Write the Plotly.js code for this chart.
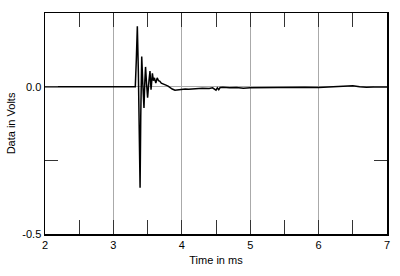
<!DOCTYPE html>
<html><head><meta charset="utf-8">
<script src="https://cdn.plot.ly/plotly-3.0.1.min.js"></script>
<style>html,body{margin:0;padding:0;background:#fff}#c{width:400px;height:276px}</style>
</head><body><div id="c"></div>
<script>
const timeMs = [2.0, 3.0, 3.3, 3.32, 3.335, 3.35, 3.365, 3.375, 3.39, 3.40, 3.414, 3.43, 3.447, 3.46, 3.47, 3.485, 3.50, 3.52, 3.535, 3.55, 3.57, 3.585, 3.60, 3.62, 3.64, 3.66, 3.68, 3.70, 3.73, 3.76, 3.80, 3.83, 3.86, 3.90, 3.95, 4.0, 4.05, 4.1, 4.2, 4.3, 4.4, 4.45, 4.5, 4.52, 4.54, 4.56, 4.6, 4.7, 4.8, 4.9, 5.0, 5.2, 5.4, 5.6, 5.8, 6.0, 6.2, 6.4, 6.5, 6.6, 6.7, 6.8, 7.0];
const volts  = [0.0, 0.0, 0.0, 0.0, 0.09, 0.205, 0.05, -0.2, -0.343, -0.1, 0.102, 0.01, -0.072, 0.02, 0.067, 0.01, -0.037, 0.02, 0.053, -0.01, 0.045, 0.02, 0.03, 0.012, 0.03, 0.02, 0.018, 0.012, 0.01, 0.006, 0.002, -0.004, -0.008, -0.012, -0.01, -0.01, -0.008, -0.009, -0.007, -0.005, -0.006, -0.004, -0.012, -0.004, -0.01, -0.003, -0.002, -0.004, -0.003, -0.005, -0.004, -0.003, -0.002, -0.003, -0.002, -0.003, -0.001, 0.001, 0.003, 0.0, -0.002, -0.001, -0.001];
const xTickVals = [2, 3, 4, 5, 6, 7];
const xTickText = ['2', '3', '4', '5', '6', '7'];
const yTickVals = [-0.5, -0.25, 0, 0.25];
const yTickText = ['-0.5', '', '0.0', ''];

const font = {family: 'Liberation Sans, Arial, sans-serif', size: 11, color: '#000'};
Plotly.newPlot('c', [{
  x: timeMs, y: volts, type: 'scatter', mode: 'lines',
  line: {color: '#000', width: 1.5}
}], {
  width: 400, height: 276,
  margin: {l: 45, r: 13, t: 13, b: 42},
  paper_bgcolor: '#fff', plot_bgcolor: '#fff',
  showlegend: false,
  font: font,
  xaxis: {
    range: [2, 7], tickvals: xTickVals, ticktext: xTickText,
    ticks: 'inside', ticklen: 14, tickwidth: 1, tickcolor: '#333',
    showgrid: true, gridcolor: '#aaa', gridwidth: 1,
    minor: {dtick: 0.5, ticks: 'inside', ticklen: 14, tickwidth: 1, tickcolor: '#333', showgrid: false},
    showline: true, linecolor: '#000', linewidth: 1.5, mirror: 'allticks',
    zeroline: false,
    title: {text: 'Time in ms', font: font, standoff: 6},
    tickfont: font
  },
  yaxis: {
    range: [-0.5, 0.25], tickvals: yTickVals, ticktext: yTickText,
    ticks: 'inside', ticklen: 13, tickwidth: 1, tickcolor: '#333',
    showgrid: false, zeroline: true, zerolinecolor: '#aaa', zerolinewidth: 1,
    showline: true, linecolor: '#000', linewidth: 1.5, mirror: 'allticks',
    title: {text: 'Data in Volts', font: font, standoff: 4},
    tickfont: font
  }
}, {staticPlot: true, displayModeBar: false});
</script></body></html>
